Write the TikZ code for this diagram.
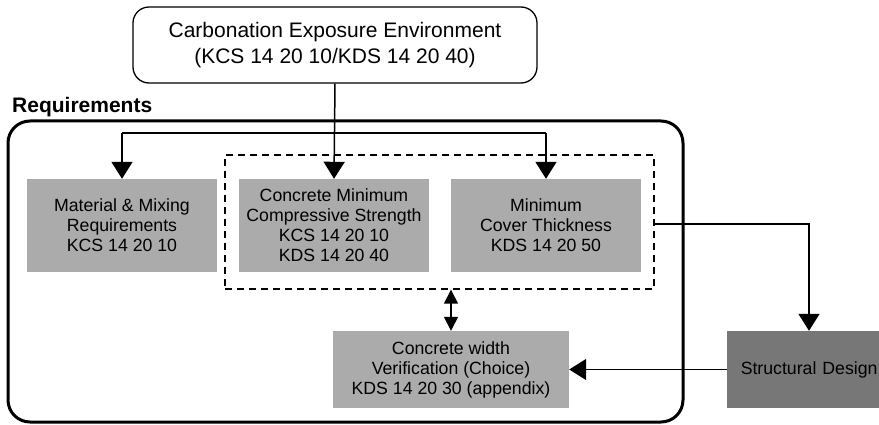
\documentclass[tikz,border=0pt]{standalone}
\usepackage{fontspec}
\setmainfont{Liberation Sans}
\usetikzlibrary{arrows.meta}
\definecolor{boxgray}{HTML}{ABABAB}
\definecolor{darkgray2}{HTML}{777777}
\tikzset{
  graybox/.style={fill=boxgray, draw=none, minimum width=190pt, minimum height=93pt,
    align=center, inner sep=0pt, font=\fontsize{17.7pt}{20pt}\selectfont},
  arr/.style={line width=1.5pt, -{Triangle[width=21pt,length=17pt]}},
  darr/.style={line width=1.5pt, {Triangle[width=14pt,length=14pt]}-{Triangle[width=14pt,length=14pt]}},
  plain/.style={line width=1.5pt},
}
\begin{document}
\begin{tikzpicture}[x=1pt,y=-1pt]
\useasboundingbox (0,0) rectangle (879,425);
% top box
\node[draw, line width=1.3pt, rounded corners=16pt, minimum width=404pt, minimum height=76pt,
  align=center, inner sep=0pt, font=\fontsize{21pt}{26pt}\selectfont]
  (top) at (335,45) {Carbonation Exposure Environment\\(KCS 14 20 10/KDS 14 20 40)};
% requirements label and outer box
\node[anchor=base west, inner sep=0pt, font=\fontsize{21pt}{24pt}\selectfont\bfseries]
  (req) at (12,113) {Requirements};
\draw[line width=3pt, rounded corners=22pt] (8,121) rectangle (683,422);
% dashed group
\node[draw, line width=1.4pt, dash pattern=on 7pt off 5pt, minimum width=429pt, minimum height=134pt,
  inner sep=0pt] (dash) at (439.5,222) {};
% gray boxes
\node[graybox] (mat) at (122,225.5) {Material \& Mixing\\Requirements\\KCS 14 20 10};
\node[graybox] (cms) at (334,225.5) {Concrete Minimum\\Compressive Strength\\KCS 14 20 10\\KDS 14 20 40};
\node[graybox] (mct) at (546,225.5) {Minimum\\Cover Thickness\\KDS 14 20 50};
\node[graybox, minimum width=236pt, minimum height=77pt] (cwv) at (451,369.5)
  {Concrete width\\Verification (Choice)\\KDS 14 20 30 (appendix)};
\node[graybox, fill=darkgray2, minimum width=152pt, minimum height=77pt, text width=149pt, align=right]
  (sd) at (803,369.5) {Structural Design};
% connectors
\coordinate (hl) at (122,133);
\coordinate (hr) at (546,133);
\coordinate (turn) at (809,224);
\draw[arr] (top.south) -- (cms.north);
\draw[plain] (hl) -- (hr);
\draw[arr] (hl) -- (mat.north);
\draw[arr] (hr) -- (mct.north);
\draw[arr] (dash.east |- turn) -- (turn) -- (turn |- sd.north);
\draw[arr] (sd.west) -- (cwv.east);
\draw[darr] (cwv.north |- dash.south) -- (cwv.north);
\end{tikzpicture}
\end{document}
